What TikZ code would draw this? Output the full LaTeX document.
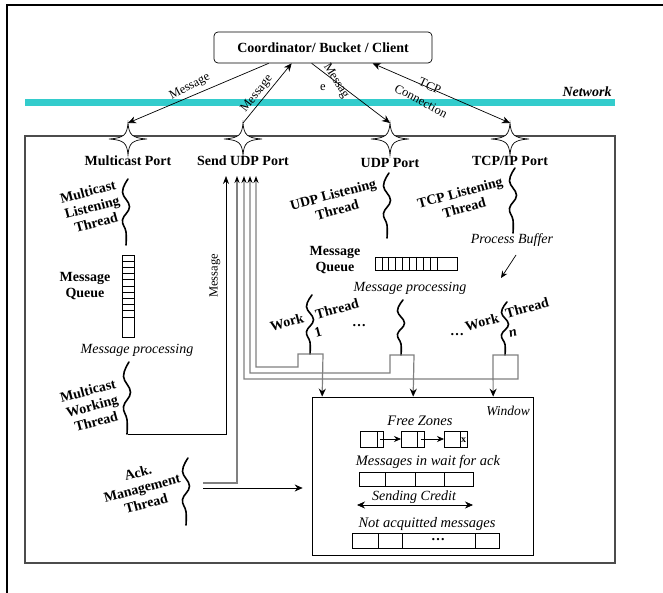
\documentclass[tikz,border=0pt]{standalone}
\usepackage{fontspec}
\setmainfont{Liberation Serif}
\usetikzlibrary{arrows.meta,calc}
\begin{document}
\begin{tikzpicture}[x=1pt,y=-1pt,
  lbl/.style={font=\fontsize{14}{16}\selectfont\bfseries, inner sep=0pt, align=center},
  ital/.style={font=\fontsize{14}{16}\selectfont\itshape, inner sep=0pt},
  witl/.style={font=\fontsize{14.5}{16}\selectfont\itshape, inner sep=0pt},
  small/.style={font=\fontsize{12.5}{14}\selectfont, inner sep=0pt},
  thread/.style={line width=1.6pt, line cap=round},
  gl/.style={draw=gray, line width=1.2pt},
  thin/.style={line width=0.7pt},
  tipA/.style={-{Stealth[length=8pt,width=7pt]}},
  tipB/.style={{Stealth[length=8pt,width=7pt]}-{Stealth[length=8pt,width=7pt]}},
  gtip/.style={{Stealth[length=7pt,width=5pt,color=black]}-{Stealth[length=8pt,width=7pt,color=black]}},
  cell/.style={draw, line width=0.7pt},
  squig/.pic={\draw[thread] plot[smooth,tension=0.7] coordinates {(2,0) (-3.5,{0.2*#1}) (3.5,{0.42*#1}) (-3.5,{0.62*#1}) (0,{0.8*#1}) (0,#1)};},
  spark/.pic={\draw[fill=white,line width=0.7pt] (0,-16) .. controls (1,-4) and (4,-1) .. (19,0) .. controls (4,1) and (1,4) .. (0,16) .. controls (-1,4) and (-4,1) .. (-19,0) .. controls (-4,-1) and (-1,-4) .. cycle;}
]
\useasboundingbox (0,0) rectangle (663,593);
% outer frame (partial)
\draw[line width=2pt] (7,593) -- (7,5) -- (663,5);
% network band
\fill[fill={rgb,255:red,51;green,204;blue,204}] (25,99) rectangle (615,106);
\node[font=\fontsize{14}{16}\selectfont\bfseries\itshape, inner sep=0pt] (net) at (587,92) {Network};
% inner box
\draw[line width=1.2pt, draw=black!70] (25,136) rectangle (615,563);
% coordinator
\node[draw, thin, rounded corners=4pt, minimum width=218pt, minimum height=31pt, font=\fontsize{14}{16}\selectfont\bfseries] (coord) at (323,47.5) {Coordinator/ Bucket / Client};
% stars
\pic at (128,139) {spark};
\pic at (243,139) {spark};
\pic at (390,139) {spark};
\pic at (510,139) {spark};
\coordinate (mpT) at (128,123);
\coordinate (suT) at (243,123);
\coordinate (upT) at (390,123);
\coordinate (tpT) at (510,123);
% network connectors
\draw[thin, tipA] ([xshift=55pt]coord.south west) -- (mpT);
\draw[thin, tipA] (suT) -- ([xshift=78pt]coord.south west);
\draw[thin, tipA] ([xshift=98pt]coord.south west) -- (upT);
\draw[thin, tipB] ([xshift=159pt]coord.south west) -- (tpT);
\node[small, rotate=28] (m1) at (190,87) {Message};
\node[small, rotate=52] (m2) at (257,94) {Message};
\node[small, rotate=-58] (m3) at (336,81) {Messag};
\node[small] (m3b) at (323,88) {e};
\node[small, rotate=-25] (tcp) at (430,86) {TCP};
\node[small, rotate=-28] (con) at (421,101) {Connection};
% port labels
\node[lbl] (lmp) at (128,161) {Multicast Port};
\node[lbl] (lsu) at (243,161) {Send UDP Port};
\node[lbl] (lup) at (390,163) {UDP Port};
\node[lbl] (ltp) at (510,161) {TCP/IP Port};
% threads
\pic at (126,179) {squig=66};
\pic at (127,362) {squig=72};
\pic at (387,173) {squig=65};
\pic at (513,168) {squig=65};
\pic at (310,295) {squig=59};
\pic at (401,300) {squig=55};
\pic at (505,302) {squig=53};
\pic at (186,458) {squig=67};
\node[lbl, rotate=15] (mlt) at (92,207) {Multicast\\Listening\\Thread};
\node[lbl] (mq1) at (85,286) {Message\\Queue};
\node[ital] (mpr1) at (137,350) {Message processing};
\node[lbl, rotate=15] (mwt) at (92,406) {Multicast\\Working\\Thread};
\node[lbl, rotate=15] (amt) at (142,488) {Ack.\\Management\\Thread};
\node[lbl, rotate=15] (ult) at (335,202) {UDP Listening\\Thread};
\node[lbl, rotate=15] (tlt) at (462,200) {TCP Listening\\Thread};
\node[lbl] (mq2) at (335,260) {Message\\Queue};
\node[ital] (mpr2) at (410,288) {Message processing};
\node[ital] (pb) at (512,240) {Process Buffer};
\coordinate (pbA) at (516,255);
\coordinate (pbB) at (501,278);
\draw[thin, -{Stealth[length=7pt,width=6pt]}] (pbA) -- (pbB);
% work thread labels
\node[lbl, rotate=15] (w1a) at (287,322) {Work};
\node[lbl, rotate=15] (w1b) at (337,309) {Thread};
\node[lbl, rotate=15] (w1c) at (318,332) {1};
\node[lbl] (d1) at (359,326) {\ldots};
\node[lbl] (d2) at (457,335) {\ldots};
\node[lbl, rotate=15] (wna) at (482,322) {Work};
\node[lbl, rotate=15] (wnb) at (527,308) {Thread};
\node[lbl, rotate=15] (wnc) at (513,333) {\itshape n};
% vertical queue
\draw[cell] (122,255) rectangle (134,337);
\foreach \k in {1,...,10} \draw[thin] (122,{255+6.2*\k}) -- (134,{255+6.2*\k});
% horizontal queue
\draw[cell] (375,257) rectangle (457,270);
\foreach \k in {1,...,9} \draw[thin] ({375+6.9*\k},257) -- ({375+6.9*\k},270);
% window
\node[draw, thin, minimum width=221pt, minimum height=158pt, inner sep=0pt] (win) at (422.5,476) {};
\node[font=\fontsize{13.5}{16}\selectfont\itshape, inner sep=0pt] (wl) at (508,411) {Window};
\node[witl] (fz) at (420,421) {Free Zones};
\draw[cell] (360,431) rectangle (383,447); \draw[thin] (377,431) -- (377,447);
\draw[cell] (401,431) rectangle (424,447); \draw[thin] (417,431) -- (417,447);
\draw[cell] (444,431) rectangle (467,447); \draw[thin] (460,431) -- (460,447);
\coordinate (f1) at (380,439); \coordinate (f2) at (401,439);
\coordinate (f3) at (420.5,439); \coordinate (f4) at (444,439);
\draw[thin, -{Stealth[length=7pt,width=6pt]}] (f1) -- (f2);
\draw[thin, -{Stealth[length=7pt,width=6pt]}] (f3) -- (f4);
\node[font=\fontsize{10}{10}\selectfont\bfseries, inner sep=0pt] (nul) at (463.5,440) {x};
\node[witl] (mw) at (428,462) {Messages in wait for ack};
\draw[cell] (359,472) rectangle (473,486);
\foreach \xx in {385,415,444} \draw[thin] (\xx,472) -- (\xx,486);
\coordinate (sc1) at (357,505); \coordinate (sc2) at (473,505);
\draw[thin, tipB] (sc1) -- (sc2);
\node[font=\fontsize{14}{16}\selectfont\itshape, inner sep=0pt] (sc) at (414,497) {Sending Credit};
\node[witl] (na) at (427,524) {Not acquitted messages};
\draw[cell] (352,533) rectangle (499,548);
\foreach \xx in {378,402,475} \draw[thin] (\xx,533) -- (\xx,548);
\node[lbl] (dots) at (438,540) {\ldots};
% multicast message line to send port
\coordinate (sA) at (128,434);
\coordinate (sB) at (226,176);
\draw[thin, -{Stealth[length=8pt,width=6pt]}] (sA) -- (226,434) -- (sB);
\node[small, rotate=90] (mv) at (215,276) {Message};
% grey working lines
\coordinate (g1) at (256,176); \coordinate (g2) at (250,176);
\coordinate (g3) at (244,176); \coordinate (g4) at (237,176);
\draw[gl, gtip] (g1) -- (256,367) -- (298,367) -- (298,354) -- (323,354) -- ([xshift=10.5pt]win.north west);
\draw[gl, gtip] (g2) -- (250,373) -- (390,373) -- (390,355) -- (414,355) -- ([xshift=101.5pt]win.north west);
\draw[gl, gtip] (g3) -- (244,379) -- (518,379) -- (518,355) -- (493,355) -- ([xshift=181.5pt]win.north west);
\coordinate (ackG) at (203,483);
\draw[gl, {Stealth[length=7pt,width=5pt,color=black]}-] (g4) -- (237,483) -- (ackG);
\coordinate (ackA) at (203,488);
\draw[thin, -{Stealth[length=8pt,width=7pt]}] (ackA) -- ([xshift=-9pt]win.west |- ackA);
\end{tikzpicture}
\end{document}
